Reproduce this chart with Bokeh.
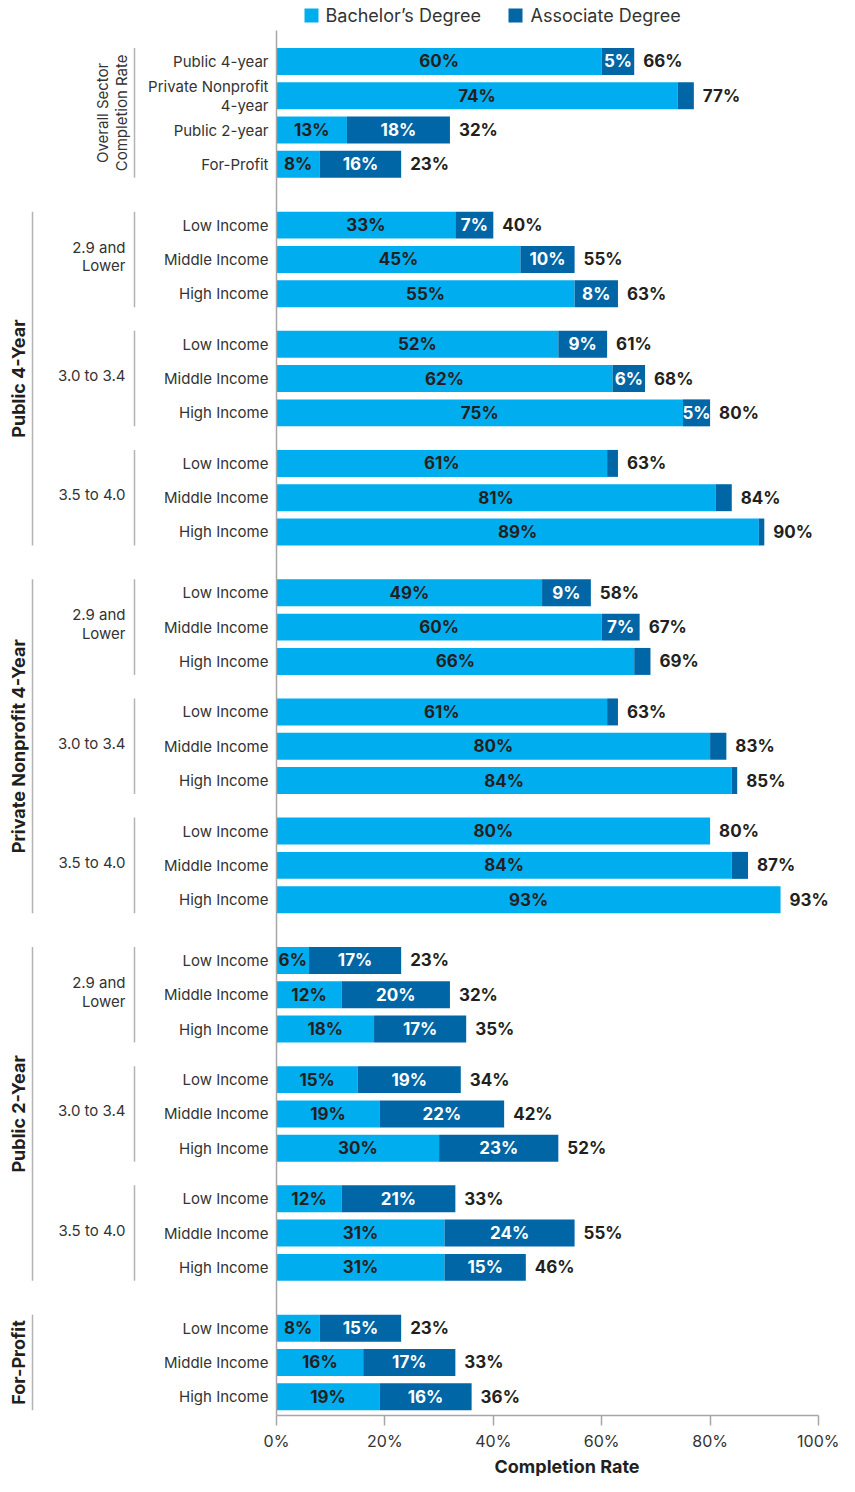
import math
from bokeh.plotting import figure
from bokeh.models import Range1d, FixedTicker, PrintfTickFormatter, Title
from bokeh.core.properties import value
from bokeh.embed import file_html
from bokeh.resources import INLINE

# ---------------- data ----------------
overall_labels = ["Public 4-year", "Private Nonprofit\n4-year", "Public 2-year", "For-Profit"]
overall_bachelor = [60, 74, 13, 8]
overall_associate = [5, None, 18, 16]
overall_total = [66, 77, 32, 23]

gpa_bands = ["2.9 and\nLower", "3.0 to 3.4", "3.5 to 4.0"]
income_levels = ["Low Income", "Middle Income", "High Income"]

p4_bachelor = [33, 45, 55, 52, 62, 75, 61, 81, 89]
p4_associate = [7, 10, 8, 9, 6, 5, None, None, None]
p4_total = [40, 55, 63, 61, 68, 80, 63, 84, 90]

pnp_bachelor = [49, 60, 66, 61, 80, 84, 80, 84, 93]
pnp_associate = [9, 7, None, None, None, None, None, None, None]
pnp_total = [58, 67, 69, 63, 83, 85, 80, 87, 93]

p2_bachelor = [6, 12, 18, 15, 19, 30, 12, 31, 31]
p2_associate = [17, 20, 17, 19, 22, 23, 21, 24, 15]
p2_total = [23, 32, 35, 34, 42, 52, 33, 55, 46]

fp_bachelor = [8, 16, 19]
fp_associate = [15, 17, 16]
fp_total = [23, 33, 36]

series_names = ["Bachelor\u2019s Degree", "Associate Degree"]
tick_values = [0, 20, 40, 60, 80, 100]
axis_title = "Completion Rate"

# ---------------- style / layout ----------------
LIGHT = "#00ADEE"
DARK = "#0066A6"
INK = "#231F20"
GREY_TXT = "#333333"
RULE = "#B3B3B3"
AXIS_COL = "#A6A6A6"
FONT = value("Inter")

W, H = 839, 1476
ZERO_PX, HUNDRED_PX = 276, 818
SCALE = (HUNDRED_PX - ZERO_PX) / 100.0
AXIS_Y = 1417


def px(xp):
    return (xp - ZERO_PX) / SCALE


STEP, SUB, SECT = 34.35, 50.6, 60.9
FIRST = 61.0
BAR_H = 27


def chunk(lst, g):
    return lst[3 * g:3 * g + 3]


structure = [
    ("Overall Sector\nCompletion Rate",
     [(None, overall_labels, overall_bachelor, overall_associate, overall_total)]),
    ("Public 4-Year",
     [(gpa_bands[g], income_levels, chunk(p4_bachelor, g), chunk(p4_associate, g), chunk(p4_total, g)) for g in range(3)]),
    ("Private Nonprofit 4-Year",
     [(gpa_bands[g], income_levels, chunk(pnp_bachelor, g), chunk(pnp_associate, g), chunk(pnp_total, g)) for g in range(3)]),
    ("Public 2-Year",
     [(gpa_bands[g], income_levels, chunk(p2_bachelor, g), chunk(p2_associate, g), chunk(p2_total, g)) for g in range(3)]),
    ("For-Profit",
     [(None, income_levels, fp_bachelor, fp_associate, fp_total)]),
]

ry, rlab, rb, ra, rt = [], [], [], [], []
sub_spans, sector_spans = [], []
cur = FIRST
first = True
for s_idx, (s_label, subs) in enumerate(structure):
    s_start = None
    for g_idx, (g_label, labels, b, a, t) in enumerate(subs):
        g_start = None
        for r in range(len(labels)):
            if not first:
                if r > 0:
                    cur += STEP
                elif g_idx > 0:
                    cur += SUB
                else:
                    cur += SECT
            first = False
            ry.append(cur); rlab.append(labels[r]); rb.append(b[r]); ra.append(a[r]); rt.append(t[r])
            if g_start is None:
                g_start = cur
            if s_start is None:
                s_start = cur
        sub_spans.append((s_idx, g_label, g_start, cur))
    sector_spans.append((s_idx, s_label, s_start, cur))

p = figure(width=W, height=H, output_backend="svg", toolbar_location=None,
           x_range=Range1d(px(0), px(W)), y_range=Range1d(AXIS_Y, 0),
           min_border_left=0, min_border_right=0,
           min_border_top=0, min_border_bottom=H - AXIS_Y,
           y_axis_location=None, background_fill_color="white",
           border_fill_color="white")
p.outline_line_color = None
p.xgrid.visible = False
p.ygrid.visible = False

# bars
p.hbar(y=ry, left=[0] * len(rb), right=rb, height=BAR_H, fill_color=LIGHT, line_color=None)
dl = [b for b, t in zip(rb, rt) if t > b]
dr = [t for b, t in zip(rb, rt) if t > b]
dy = [y for y, b, t in zip(ry, rb, rt) if t > b]
p.hbar(y=dy, left=dl, right=dr, height=BAR_H, fill_color=DARK, line_color=None)

# bar labels
p.text(x=[b / 2 for b in rb], y=ry, text=[f"{b}%" for b in rb],
       text_align="center", text_baseline="middle", text_font=FONT,
       text_font_style="bold", text_font_size="17px", text_color=INK)
ax = [b + (t - b) / 2 for b, a, t in zip(rb, ra, rt) if a is not None]
ayy = [y for y, a in zip(ry, ra) if a is not None]
atx = [f"{a}%" for a in ra if a is not None]
p.text(x=ax, y=ayy, text=atx, text_align="center", text_baseline="middle",
       text_font=FONT, text_font_style="bold", text_font_size="17px", text_color="white")
p.text(x=[t + 9 / SCALE for t in rt], y=ry, text=[f"{t}%" for t in rt],
       text_align="left", text_baseline="middle", text_font=FONT,
       text_font_style="bold", text_font_size="17px", text_color=INK)

# row labels
p.text(x=[px(268)] * len(ry), y=ry, text=rlab, text_align="right",
       text_baseline="middle", text_font=FONT, text_font_size="15px",
       text_color=GREY_TXT, text_line_height=0.98)

# sub-group brackets & labels
for s_idx, g_label, y0, y1 in sub_spans:
    if s_idx == 0 or g_label is not None:
        p.segment(x0=[px(134)], y0=[y0 - BAR_H / 2], x1=[px(134)], y1=[y1 + BAR_H / 2],
                  line_color=RULE, line_width=1.5)
    if g_label is not None:
        p.text(x=[px(125)], y=[(y0 + y1) / 2 - 3], text=[g_label], text_align="right",
               text_baseline="middle", text_font=FONT, text_font_size="15px",
               text_color=GREY_TXT, text_line_height=0.98)

for s_idx, s_label, y0, y1 in sector_spans:
    if s_idx == 0:
        p.text(x=[px(111)], y=[(y0 + y1) / 2], text=[s_label], angle=math.pi / 2,
               text_align="center", text_baseline="middle", text_font=FONT,
               text_font_size="15px", text_color=GREY_TXT, text_line_height=1.0)
    else:
        p.segment(x0=[px(32)], y0=[y0 - BAR_H / 2], x1=[px(32)], y1=[y1 + BAR_H / 2],
                  line_color=RULE, line_width=1.5)
        p.text(x=[px(18)], y=[(y0 + y1) / 2], text=[s_label], angle=math.pi / 2,
               text_align="center", text_baseline="middle", text_font=FONT,
               text_font_style="bold", text_font_size="18px", text_color=INK)

# vertical zero line
p.segment(x0=[0], y0=[30], x1=[0], y1=[AXIS_Y], line_color=AXIS_COL, line_width=1.5)

# legend
p.rect(x=[px(311), px(515)], y=[15, 15], width=14 / SCALE, height=14,
       fill_color=[LIGHT, DARK], line_color=None)
p.text(x=[px(325), px(530)], y=[15, 15], text=series_names, text_align="left",
       text_baseline="middle", text_font=FONT, text_font_size="18px", text_color=GREY_TXT)

# x axis
xa = p.xaxis[0]
xa.ticker = FixedTicker(ticks=tick_values)
xa.formatter = PrintfTickFormatter(format="%d%%")
xa.bounds = (0, 100)
xa.axis_line_color = AXIS_COL
xa.axis_line_width = 1.5
xa.major_tick_line_color = AXIS_COL
xa.major_tick_line_width = 1.5
xa.major_tick_in = 0
xa.major_tick_out = 10
xa.minor_tick_line_color = None
xa.major_label_standoff = 5
xa.major_label_text_font = "Inter"
xa.major_label_text_font_size = "16px"
xa.major_label_text_color = GREY_TXT

title = Title(text=axis_title, align="left", offset=int(ZERO_PX + 53.6 * SCALE - 72),
              standoff=0, text_font="Inter", text_font_style="bold",
              text_font_size="18px", text_color=INK)
p.add_layout(title, "below")

open("out.html", "w").write(file_html(p, INLINE))
